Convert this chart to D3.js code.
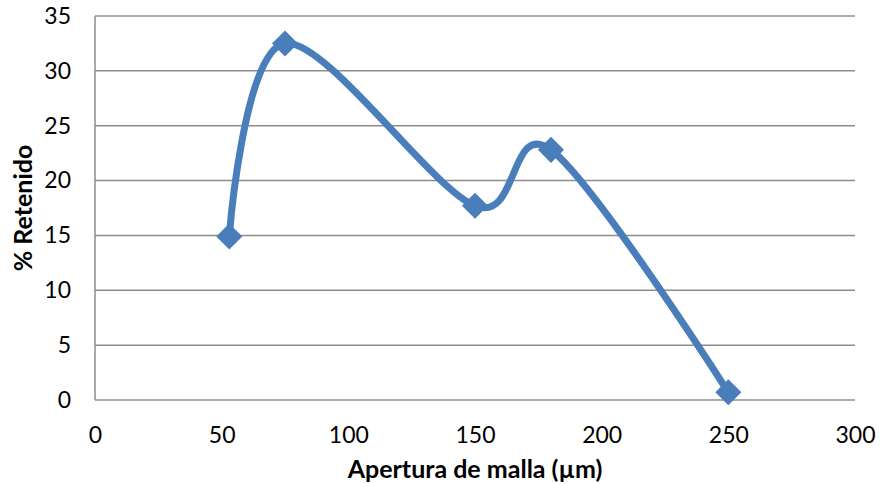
<!DOCTYPE html>
<html>
<head>
<meta charset="utf-8">
<script src="https://cdn.jsdelivr.net/npm/d3@7"></script>
<style>
  html, body { margin: 0; padding: 0; background: #fff; }
  svg text { font-family: Lato, "Open Sans", sans-serif; fill: #000; }
</style>
</head>
<body>
<svg id="chart" width="880" height="484"></svg>
<script>
// Mesh aperture (µm) and retained percentage
const apertura = [53, 75, 150, 180, 250];
const retenido = [14.9, 32.5, 17.7, 22.8, 0.7];
const xTicks = [0, 50, 100, 150, 200, 250, 300];
const yTicks = [0, 5, 10, 15, 20, 25, 30, 35];

const svg = d3.select("#chart");
const margin = { left: 95, right: 25, top: 16, bottom: 84 };
const W = 880, H = 484;

const x = d3.scaleLinear().domain([0, 300]).range([margin.left, W - margin.right]);
const y = d3.scaleLinear().domain([0, 35]).range([H - margin.bottom, margin.top]);

// horizontal gridlines
svg.append("g")
  .selectAll("line")
  .data(yTicks)
  .join("line")
  .attr("x1", x(0)).attr("x2", x(300))
  .attr("y1", d => y(d)).attr("y2", d => y(d))
  .attr("stroke", "#8c8c8c").attr("stroke-width", 1.5);

// left axis line
svg.append("line")
  .attr("x1", x(0)).attr("x2", x(0))
  .attr("y1", y(0)).attr("y2", y(35))
  .attr("stroke", "#8c8c8c").attr("stroke-width", 1.5);

// y tick labels
const yAxis = d3.axisLeft(y).tickValues(yTicks).tickSize(0).tickPadding(24);
svg.append("g")
  .attr("transform", `translate(${x(0)},0)`)
  .call(yAxis)
  .call(g => g.select(".domain").remove())
  .call(g => g.selectAll("text").attr("font-size", 23).attr("font-family", "Lato, sans-serif").attr("fill", "#000"));

// x tick labels
const xAxis = d3.axisBottom(x).tickValues(xTicks).tickSize(0).tickPadding(27);
svg.append("g")
  .attr("transform", `translate(0,${y(0)})`)
  .call(xAxis)
  .call(g => g.select(".domain").remove())
  .call(g => g.selectAll("text").attr("font-size", 23).attr("font-family", "Lato, sans-serif").attr("fill", "#000"));

// smoothed series line
const pts = apertura.map((a, i) => [a, retenido[i]]);
const line = d3.line()
  .x(d => x(d[0])).y(d => y(d[1]))
  .curve(d3.curveCardinal.tension(0));

svg.append("path")
  .datum(pts)
  .attr("d", line)
  .attr("fill", "none")
  .attr("stroke", "#4a7ebb")
  .attr("stroke-width", 7)
  .attr("stroke-linecap", "round")
  .attr("stroke-linejoin", "round");

// diamond markers
svg.append("g")
  .selectAll("path")
  .data(pts)
  .join("path")
  .attr("transform", d => `translate(${x(d[0])},${y(d[1])}) rotate(45)`)
  .attr("d", d3.symbol().type(d3.symbolSquare).size(340))
  .attr("fill", "#4a7ebb");

// axis titles
svg.append("text")
  .attr("x", (x(0) + x(300)) / 2)
  .attr("y", 478)
  .attr("text-anchor", "middle")
  .attr("font-size", 25)
  .attr("font-weight", "bold")
  .text("Apertura de malla (µm)");

svg.append("text")
  .attr("transform", `translate(32,${(y(0) + y(35)) / 2}) rotate(-90)`)
  .attr("text-anchor", "middle")
  .attr("font-size", 25)
  .attr("font-weight", "bold")
  .text("% Retenido");
</script>
</body>
</html>
